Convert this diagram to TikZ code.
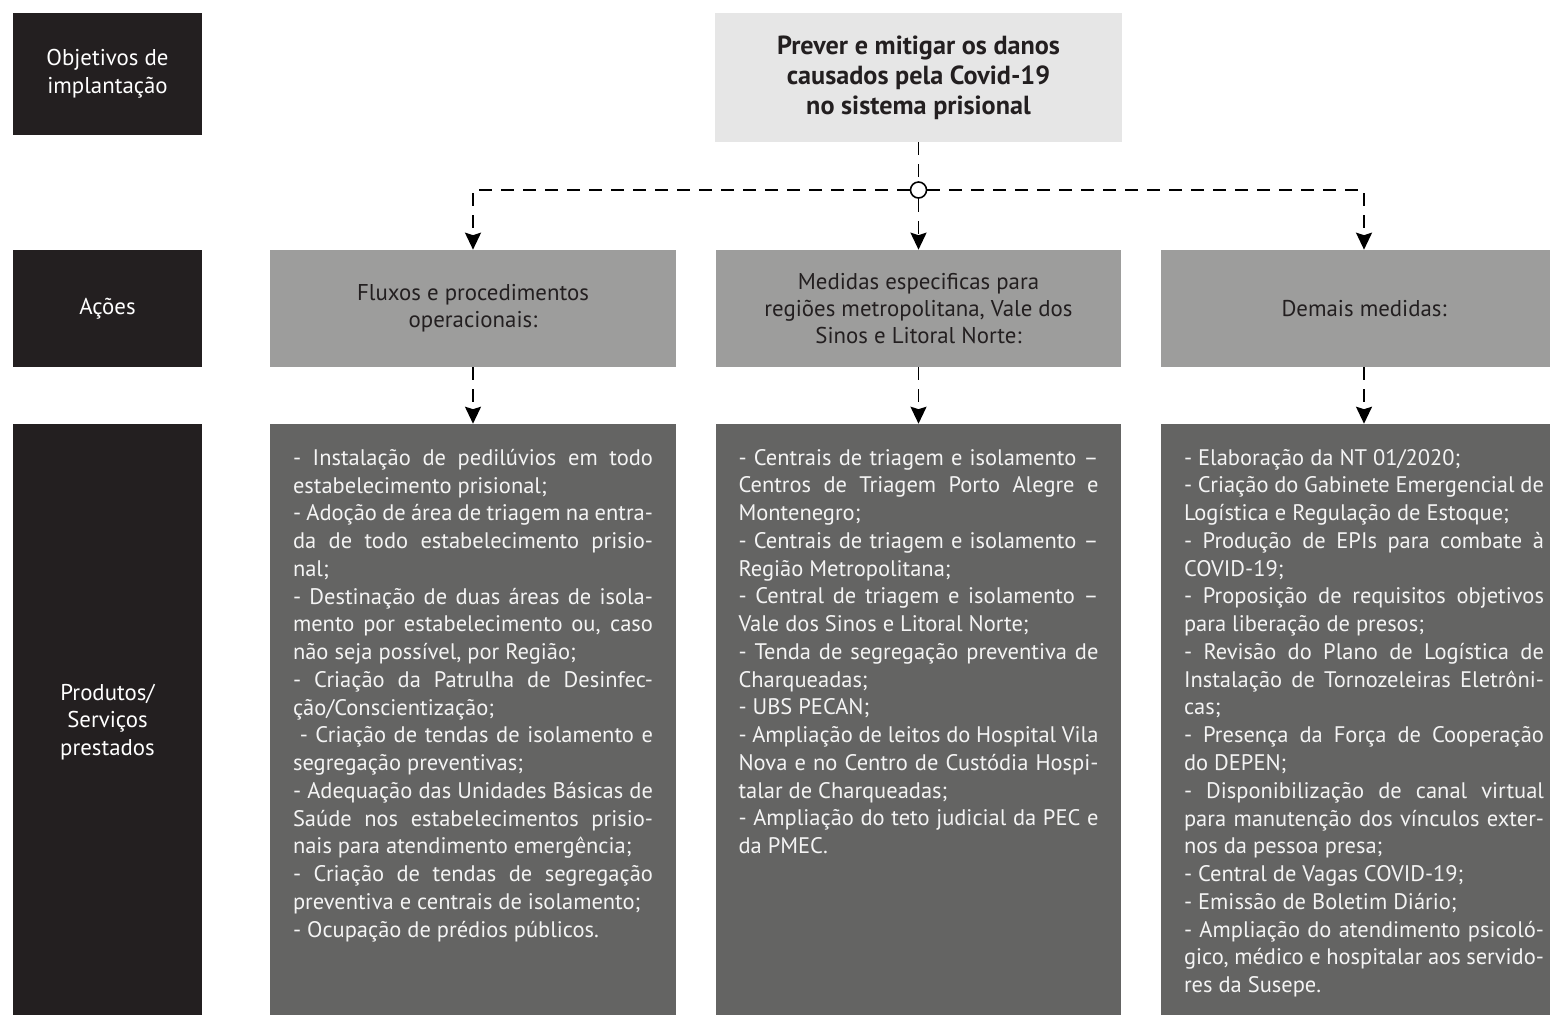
\documentclass[tikz,border=0pt]{standalone}
\usepackage{fontspec}
\setmainfont{PT Sans}
\usetikzlibrary{arrows.meta,positioning}

\definecolor{dunkel}{HTML}{231F20}
\definecolor{hellgrau}{HTML}{E6E6E6}
\definecolor{mittelgrau}{HTML}{9D9D9C}
\definecolor{dunkelgrau}{HTML}{646463}
\definecolor{weisslich}{HTML}{F4F4F4}

\tikzset{
  labelbox/.style={fill=dunkel, text=white, minimum width=3.78cm, inner sep=0pt,
    align=center, font=\fontsize{13}{15.8}\selectfont},
  zielbox/.style={fill=hellgrau, text=dunkel, minimum width=8.14cm, minimum height=2.58cm,
    inner sep=0pt, align=center, font=\fontsize{14.9}{17}\selectfont\bfseries},
  aktbox/.style={fill=mittelgrau, text=dunkel, minimum width=8.12cm, minimum height=2.34cm,
    inner sep=0pt, align=center, font=\fontsize{13}{15.3}\selectfont},
  prodbox/.style={fill=dunkelgrau, minimum width=8.12cm, minimum height=11.92cm, inner sep=0pt},
  prodtext/.style={text=weisslich, text width=7.2cm, inner sep=0pt, align=justify,
    font=\fontsize{12.8}{15.8}\selectfont},
  knoten/.style={circle, draw=black, fill=white, line width=0.9pt, inner sep=0pt, minimum size=0.32cm},
  strich/.style={line width=1.1pt, dash pattern=on 0.26cm off 0.18cm},
  pfeil/.style={-{Stealth[length=0.34cm,width=0.32cm,inset=0.05cm]}}
}

\begin{document}
\begin{tikzpicture}[x=0.02cm,y=-0.02cm]
            \path[use as bounding box, fill=white] (0,0) rectangle (1550,1014);

            % Beschriftungen links
            \node[labelbox, minimum height=2.44cm] (lab1) at (107.5,74) {Objetivos de\\implantação};
            \node[labelbox, minimum height=2.34cm] (lab2) at (107.5,308.5) {Ações};
            \node[labelbox, minimum height=11.92cm] (lab3) at (107.5,722) {Produtos/\\Serviços\\prestados};

            % Ziel oben
            \node[zielbox] (ziel) at (918.5,77.5) {Prever e mitigar os danos\\causados pela Covid-19\\no sistema prisional};

            % Aktionen
            \node[aktbox] (akt1) at (473,308.5) {Fluxos e procedimentos\\operacionais:};
            \node[aktbox] (akt2) at (918.5,308.5) {Medidas especificas para\\regiões metropolitana, Vale dos\\Sinos e Litoral Norte:};
            \node[aktbox] (akt3) at (1364,308.5) {Demais medidas:};

            % Produkte
            \node[prodbox] (prod1) at (473,722) {};
            \node[prodbox] (prod2) at (918.5,722) {};
            \node[prodbox] (prod3) at (1364,722) {};

            \node[prodtext, below right=0.5cm and 0.46cm of prod1.north west] (prod1txt) {%
- Instalação de pedilúvios em todo\linebreak
estabelecimento prisional;\\
- Adoção de área de triagem na entra-\linebreak
da de todo estabelecimento prisio-\linebreak
nal;\\
- Destinação de duas áreas de isola-\linebreak
mento por estabelecimento ou, caso\linebreak
não seja possível, por Região;\\
- Criação da Patrulha de Desinfec-\linebreak
ção/Conscientização;\\
\hspace*{.3em}- Criação de tendas de isolamento e\linebreak
segregação preventivas;\\
- Adequação das Unidades Básicas de\linebreak
Saúde nos estabelecimentos prisio-\linebreak
nais para atendimento emergência;\\
- Criação de tendas de segregação\linebreak
preventiva e centrais de isolamento;\\
- Ocupação de prédios públicos.};

            \node[prodtext, below right=0.5cm and 0.46cm of prod2.north west] (prod2txt) {%
- Centrais de triagem e isolamento --\linebreak
Centros de Triagem Porto Alegre e\linebreak
Montenegro;\\
- Centrais de triagem e isolamento --\linebreak
Região Metropolitana;\\
- Central de triagem e isolamento --\linebreak
Vale dos Sinos e Litoral Norte;\\
- Tenda de segregação preventiva de\linebreak
Charqueadas;\\
- UBS PECAN;\\
- Ampliação de leitos do Hospital Vila\linebreak
Nova e no Centro de Custódia Hospi-\linebreak
talar de Charqueadas;\\
- Ampliação do teto judicial da PEC e\linebreak
da PMEC.};

            \node[prodtext, below right=0.5cm and 0.46cm of prod3.north west] (prod3txt) {%
- Elaboração da NT 01/2020;\\
- Criação do Gabinete Emergencial de\linebreak
Logística e Regulação de Estoque;\\
- Produção de EPIs para combate à\linebreak
COVID-19;\\
- Proposição de requisitos objetivos\linebreak
para liberação de presos;\\
- Revisão do Plano de Logística de\linebreak
Instalação de Tornozeleiras Eletrôni-\linebreak
cas;\\
- Presença da Força de Cooperação\linebreak
do DEPEN;\\
- Disponibilização de canal virtual\linebreak
para manutenção dos vínculos exter-\linebreak
nos da pessoa presa;\\
- Central de Vagas COVID-19;\\
- Emissão de Boletim Diário;\\
- Ampliação do atendimento psicoló-\linebreak
gico, médico e hospitalar aos servido-\linebreak
res da Susepe.};

            % Verbindungen
            \node[knoten] (knoten) at (918.5,190) {};
            \draw[strich] (ziel) -- (knoten);
            \draw[strich, pfeil] (knoten) -| (akt1);
            \draw[strich, pfeil] (knoten) -- (akt2);
            \draw[strich, pfeil] (knoten) -| (akt3);

            \draw[strich, pfeil] (akt1) -- (prod1);
            \draw[strich, pfeil] (akt2) -- (prod2);
            \draw[strich, pfeil] (akt3) -- (prod3);
        \end{tikzpicture}
\end{document}
